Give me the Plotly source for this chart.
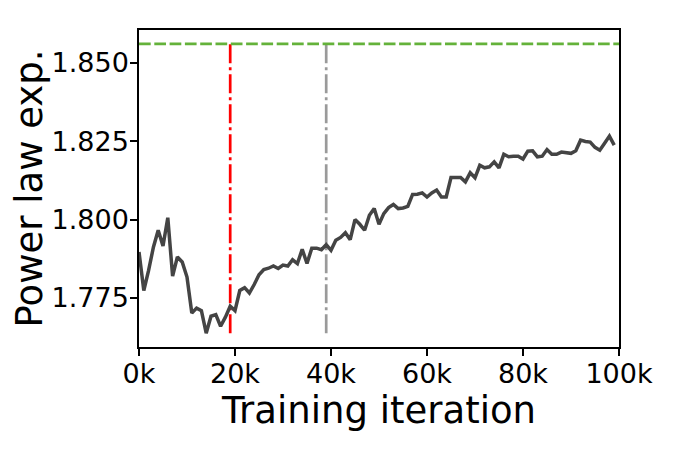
import plotly.graph_objects as go

# training steps (one point per 1k iterations)
steps = list(range(0, 100000, 1000))

# power law exponent
power_law_exp = [
    1.7897, 1.7774, 1.7838, 1.7912, 1.7966, 1.7916, 1.8006, 1.7820, 1.7881, 1.7865,
    1.7817, 1.7702, 1.7718, 1.7710, 1.7638, 1.7692, 1.7697, 1.7660, 1.7689, 1.7724,
    1.7710, 1.7774, 1.7783, 1.7766, 1.7793, 1.7824, 1.7841, 1.7845, 1.7852, 1.7844,
    1.7855, 1.7852, 1.7872, 1.7860, 1.7905, 1.7860, 1.7909, 1.7909, 1.7904, 1.7920,
    1.7902, 1.7934, 1.7943, 1.7958, 1.7936, 1.8000, 1.7985, 1.7966, 1.8014, 1.8035,
    1.7985, 1.8019, 1.8038, 1.8048, 1.8035, 1.8037, 1.8042, 1.8080, 1.8081, 1.8085,
    1.8072, 1.8085, 1.8094, 1.8072, 1.8072, 1.8134, 1.8134, 1.8134, 1.8120, 1.8149,
    1.8133, 1.8173, 1.8165, 1.8168, 1.8184, 1.8165, 1.8208, 1.8200, 1.8202, 1.8202,
    1.8193, 1.8218, 1.8219, 1.8200, 1.8202, 1.8223, 1.8208, 1.8208, 1.8215, 1.8213,
    1.8211, 1.8219, 1.8253, 1.8249, 1.8247, 1.8230, 1.8221, 1.8243, 1.8266, 1.8237,
]

# reference level and marked iterations
reference_exp = 1.856
red_marker_step = 19000
gray_marker_step = 39000

x_tick_vals = [0, 20000, 40000, 60000, 80000, 100000]
x_tick_text = ["0k", "20k", "40k", "60k", "80k", "100k"]
y_tick_vals = [1.775, 1.800, 1.825, 1.850]

y_low = min(power_law_exp)

fig = go.Figure()

# vertical markers from the lowest value up to the reference level
fig.add_trace(go.Scatter(
    x=[red_marker_step, red_marker_step],
    y=[y_low, reference_exp],
    mode="lines",
    line=dict(color="#ff0000", width=2.7, dash="19px,4px,3px,4px"),
    showlegend=False,
))
fig.add_trace(go.Scatter(
    x=[gray_marker_step, gray_marker_step],
    y=[y_low, reference_exp],
    mode="lines",
    line=dict(color="#9a9a9a", width=2.7, dash="19px,4px,3px,4px"),
    showlegend=False,
))

# main curve
fig.add_trace(go.Scatter(
    x=steps,
    y=power_law_exp,
    mode="lines",
    line=dict(color="#444444", width=3.5),
    showlegend=False,
))

# reference level across the whole axis
fig.add_trace(go.Scatter(
    x=[0, 100000],
    y=[reference_exp, reference_exp],
    mode="lines",
    line=dict(color="#64b23a", width=2.7, dash="11.7px,3.6px"),
    showlegend=False,
    cliponaxis=False,
))

axis_style = dict(
    showline=True,
    linecolor="black",
    linewidth=1.5,
    mirror=True,
    ticks="outside",
    ticklen=7,
    tickwidth=1.5,
    tickcolor="black",
    showgrid=False,
    zeroline=False,
    automargin=False,
    tickfont=dict(family="DejaVu Sans", size=27, color="black"),
)

# page body has an 8px margin, so the figure is 8px smaller and margins shifted
fig.update_layout(
    width=668,
    height=444,
    margin=dict(l=131, r=57, t=22, b=105),
    plot_bgcolor="white",
    paper_bgcolor="white",
    font=dict(family="DejaVu Sans", color="black"),
    xaxis=dict(
        range=[0, 100000],
        tickvals=x_tick_vals,
        ticktext=x_tick_text,
        ticklabelstandoff=-5,
        title=dict(text="Training iteration",
                   font=dict(family="DejaVu Sans", size=37), standoff=6),
        **axis_style,
    ),
    yaxis=dict(
        range=[1.7594, 1.8604],
        tickvals=y_tick_vals,
        tickformat=".3f",
        ticklabelstandoff=-4,
        title=dict(text="Power law exp.",
                   font=dict(family="DejaVu Sans", size=37), standoff=7),
        **axis_style,
    ),
)

fig.write_html("out.html")
